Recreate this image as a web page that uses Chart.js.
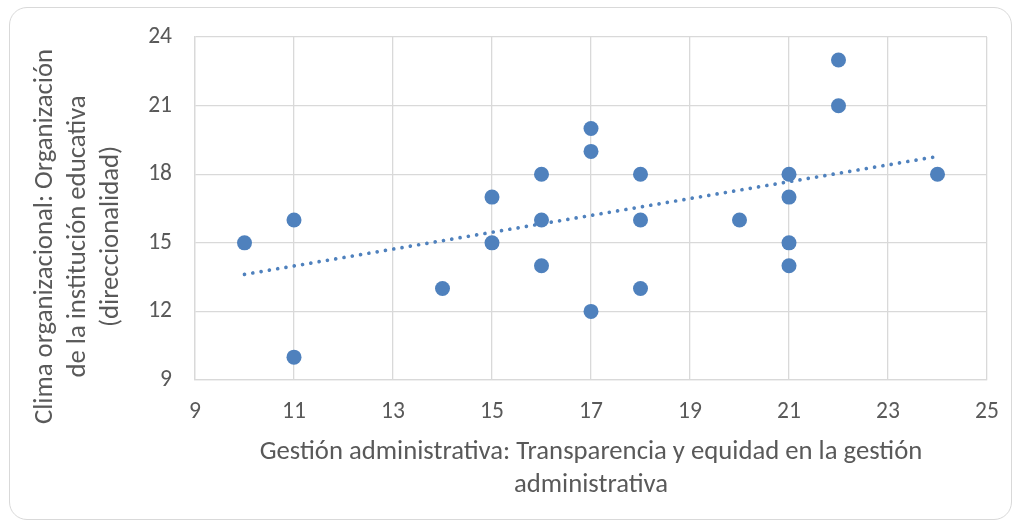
<!DOCTYPE html>
<html><head><meta charset="utf-8">
<script src="https://cdn.jsdelivr.net/npm/chart.js@4.4.0/dist/chart.umd.min.js"></script>
<style>
html,body{margin:0;padding:0;background:#fff;width:1021px;height:527px;overflow:hidden}
#frame{position:absolute;left:9px;top:7px;width:1003px;height:513px;border:1.3px solid #d9d9d9;border-radius:18px;box-sizing:border-box}
canvas{position:absolute;left:0;top:0}
</style></head><body>
<div id="frame"></div>
<canvas id="c" width="1021" height="527"></canvas>
<script>
// ---- data ----
const xValues = [10, 11, 11, 14, 15, 15, 16, 16, 16, 17, 17, 17, 18, 18, 18, 20, 21, 21, 21, 21, 22, 22, 24];
const yValues = [15, 16, 10, 13, 17, 15, 18, 16, 14, 20, 19, 12, 18, 16, 13, 16, 18, 17, 15, 14, 23, 21, 18];
const trendX = [10, 24];
const trendY = [13.62, 18.78];
const xTicks = [9, 11, 13, 15, 17, 19, 21, 23, 25];
const yTicks = [9, 12, 15, 18, 21, 24];
const xTitle = ['Gestión administrativa: Transparencia y equidad en la gestión', 'administrativa'];
const yTitle = ['Clima organizacional: Organización', 'de la institución educativa', '(direccionalidad)'];

const FONT = 'Carlito, "Open Sans", sans-serif';
const TXT = '#595959';
const BLUE = '#4f81bd';
const GRID = '#d9d9d9';

const points = xValues.map((x, i) => ({x, y: yValues[i]}));
const trend = trendX.map((x, i) => ({x, y: trendY[i]}));

const yTitlePlugin = {
  id: 'yTitle',
  afterDraw(chart) {
    const ctx = chart.ctx;
    ctx.save();
    ctx.fillStyle = TXT;
    ctx.font = `26.7px ${FONT}`;
    ctx.textAlign = 'center';
    ctx.textBaseline = 'middle';
    const xs = [45, 78, 111];
    yTitle.forEach((t, i) => {
      ctx.save();
      ctx.translate(xs[i], 236.5);
      ctx.rotate(-Math.PI / 2);
      ctx.fillText(t, 0, 0);
      ctx.restore();
    });
    ctx.restore();
  }
};

new Chart(document.getElementById('c'), {
  type: 'scatter',
  data: {
    datasets: [
      {
        type: 'line',
        data: trend,
        borderColor: BLUE,
        borderWidth: 3.7,
        borderDash: [0.01, 8.4],
        borderCapStyle: 'round',
        pointRadius: 0,
        fill: false,
        order: 1
      },
      {
        data: points,
        backgroundColor: BLUE,
        borderColor: BLUE,
        borderWidth: 0,
        pointRadius: 7.5,
        order: 0
      }
    ]
  },
  options: {
    responsive: false,
    animation: false,
    events: [],
    layout: {padding: {left: 0, top: 37, right: 34, bottom: 0}},
    plugins: {legend: {display: false}, tooltip: {enabled: false}},
    scales: {
      x: {
        type: 'linear',
        min: xTicks[0], max: xTicks[xTicks.length - 1],
        afterBuildTicks: s => { s.ticks = xTicks.map(v => ({value: v})); },
        afterFit: s => { s.height = 147; },
        grid: {color: GRID, lineWidth: 1.3, drawTicks: false},
        border: {color: GRID, width: 1.3},
        ticks: {color: TXT, font: {family: FONT, size: 23.5}, padding: 18},
        title: {display: true, text: xTitle, color: TXT, font: {family: FONT, size: 26.7, lineHeight: 1.236}, padding: {top: 0, bottom: 25}}
      },
      y: {
        type: 'linear',
        min: yTicks[0], max: yTicks[yTicks.length - 1],
        afterBuildTicks: s => { s.ticks = yTicks.map(v => ({value: v})); },
        afterFit: s => { s.width = 195; },
        grid: {color: GRID, lineWidth: 1.3, drawTicks: false},
        border: {color: GRID, width: 1.3},
        ticks: {color: TXT, font: {family: FONT, size: 23.5}, padding: 23}
      }
    }
  },
  plugins: [yTitlePlugin]
});
</script>
</body></html>
